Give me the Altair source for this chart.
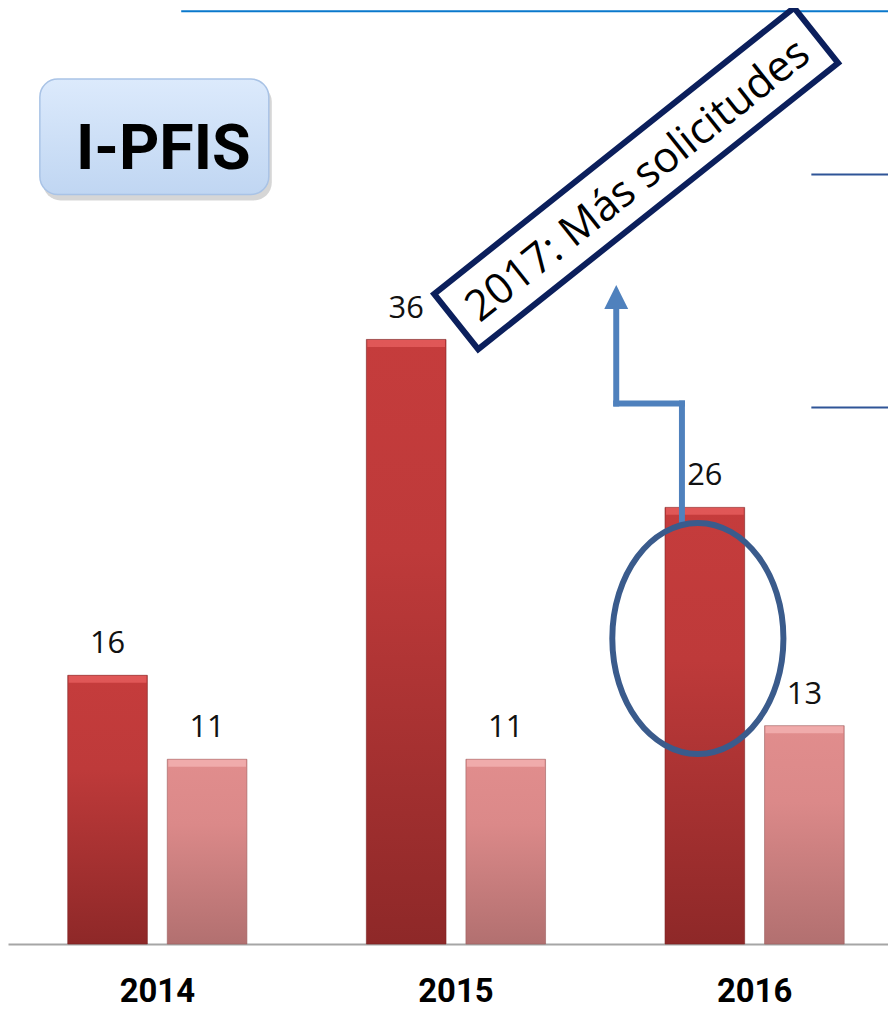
import altair as alt
import pandas as pd

# ---- data ----
years = ["2014", "2015", "2016"]
series = ["Solicitadas", "Concedidas"]
solicitadas = [16, 36, 26]
concedidas = [11, 11, 13]

rows = []
for i, yr in enumerate(years):
    rows.append({"year": yr, "serie": series[0], "value": solicitadas[i]})
    rows.append({"year": yr, "serie": series[1], "value": concedidas[i]})
df = pd.DataFrame(rows)
dummy = pd.DataFrame({"d": [0]})

# ---- shared encodings ----
x_enc = alt.X(
    "year:N", sort=years,
    scale=alt.Scale(range=[0, 900], paddingInner=0, paddingOuter=0),
    axis=alt.Axis(title=None, ticks=False, grid=False, labelAngle=0,
                  domainColor="#A6A6A6", domainWidth=2,
                  labelFont="Roboto", labelFontWeight="bold", labelFontSize=33,
                  labelColor="black", labelPadding=32),
)
xoff = alt.XOffset("serie:N", sort=series,
                   scale=alt.Scale(domain=series, paddingInner=0.2, paddingOuter=0.6))
y_enc = alt.Y("value:Q", scale=alt.Scale(domain=[0, 55.6], nice=False), axis=None)


def grad(top, bottom, mid=None):
    stops = [alt.GradientStop(color=top, offset=0)]
    if mid:
        stops.append(alt.GradientStop(color=mid, offset=0.35))
    stops.append(alt.GradientStop(color=bottom, offset=1))
    return alt.Gradient(gradient="linear", stops=stops, x1=0, x2=0, y1=0, y2=1)


base = alt.Chart(df)
bars_a = base.mark_bar(fill=grad("#C53C3C", "#8E2828", "#BE3A3A"), stroke="#7A2020",
                       strokeWidth=0.6).encode(
    x=x_enc, xOffset=xoff, y=y_enc).transform_filter(alt.datum.serie == series[0])
bars_b = base.mark_bar(fill=grad("#E18D8D", "#B27070", "#DB8989"), stroke="#9A5C5C",
                       strokeWidth=0.6).encode(
    x=x_enc, xOffset=xoff, y=y_enc).transform_filter(alt.datum.serie == series[1])
bevel_a = base.mark_tick(size=78, thickness=7, color="#E25A5A", opacity=0.9).encode(
    x=x_enc, xOffset=xoff, y=y_enc, yOffset=alt.value(4)
).transform_filter(alt.datum.serie == series[0])
bevel_b = base.mark_tick(size=78, thickness=7, color="#F2AEAE", opacity=0.9).encode(
    x=x_enc, xOffset=xoff, y=y_enc, yOffset=alt.value(4)
).transform_filter(alt.datum.serie == series[1])
labels = base.mark_text(font="Open Sans", fontSize=31, color="#111111",
                        baseline="alphabetic", dy=-22).encode(
    x=x_enc, xOffset=xoff, y=y_enc, text="value:Q")

D = alt.Chart(dummy)

# top blue band
top_band = D.mark_rect(color="#0A78CC").encode(
    x=alt.value(174), x2=alt.value(900), y=alt.value(0), y2=alt.value(2))

# two short lines on the right
line1 = D.mark_rule(color="#2F5597", strokeWidth=2).encode(
    x=alt.value(807), x2=alt.value(900), y=alt.value(165), y2=alt.value(165))
line2 = D.mark_rule(color="#2F5597", strokeWidth=2).encode(
    x=alt.value(807), x2=alt.value(900), y=alt.value(399), y2=alt.value(399))

# I-PFIS box
box_shadow = D.mark_rect(cornerRadius=18, color="#8A8A8A", opacity=0.35).encode(
    x=alt.value(35), x2=alt.value(265), y=alt.value(74), y2=alt.value(191))
box = D.mark_rect(cornerRadius=18, fill=grad("#DCEAFC", "#C0D6F2"),
                  stroke="#A9C3E6", strokeWidth=1.5).encode(
    x=alt.value(32), x2=alt.value(262), y=alt.value(69), y2=alt.value(185))
box_text = D.mark_text(text="I-PFIS", font="Roboto", fontWeight="bold", fontSize=63,
                       color="black", baseline="alphabetic", align="center").encode(
    x=alt.value(156), y=alt.value(159))

# arrow
arrow_col = "#4F81BD"
seg1 = D.mark_rule(color=arrow_col, strokeWidth=6, strokeCap="square").encode(
    x=alt.value(677), x2=alt.value(677), y=alt.value(515), y2=alt.value(395))
seg2 = D.mark_rule(color=arrow_col, strokeWidth=6, strokeCap="square").encode(
    x=alt.value(677), x2=alt.value(611), y=alt.value(395), y2=alt.value(395))
seg3 = D.mark_rule(color=arrow_col, strokeWidth=6, strokeCap="square").encode(
    x=alt.value(611), x2=alt.value(611), y=alt.value(395), y2=alt.value(298))
head = D.mark_point(shape="M-1,1L1,1L0,-1Z", size=576, filled=True, color=arrow_col,
                    opacity=1).encode(x=alt.value(611), y=alt.value(288))

# ellipse
ellipse_path = ("M0.741,0C0.741,0.552,0.409,1,0,1C-0.409,1,-0.741,0.552,-0.741,0"
                "C-0.741,-0.552,-0.409,-1,0,-1C0.409,-1,0.741,-0.552,0.741,0Z")
ellipse = D.mark_point(shape=ellipse_path, size=232 * 232, filled=False,
                       stroke="#3A5B8C", strokeWidth=6, opacity=1).encode(
    x=alt.value(693), y=alt.value(631))

# rotated callout box
ang = 321.5
callout = D.mark_point(shape="M-1,-0.1537L1,-0.1537L1,0.1537L-1,0.1537Z", size=462 * 462,
                       filled=True, fill="white", stroke="#0B1F5C", strokeWidth=6,
                       opacity=1, angle=ang).encode(x=alt.value(631), y=alt.value(169))
callout_text = D.mark_text(text="2017: Más solicitudes", font="Open Sans", fontSize=43,
                           color="black", angle=ang, align="center", baseline="middle",
                           dy=3).encode(x=alt.value(631), y=alt.value(169))

chart = alt.layer(
    bars_a, bars_b, bevel_a, bevel_b, labels, top_band, line1, line2,
    seg1, seg2, seg3, head, ellipse,
    box_shadow, box, box_text, callout, callout_text,
).properties(
    width=884, height=938,
    padding={"left": 0, "top": 0, "right": 0, "bottom": 65},
    autosize=alt.AutoSizeParams(type="none"),
).configure_view(stroke=None)

chart.save("out.html", embed_options={"renderer": "svg", "actions": False})
